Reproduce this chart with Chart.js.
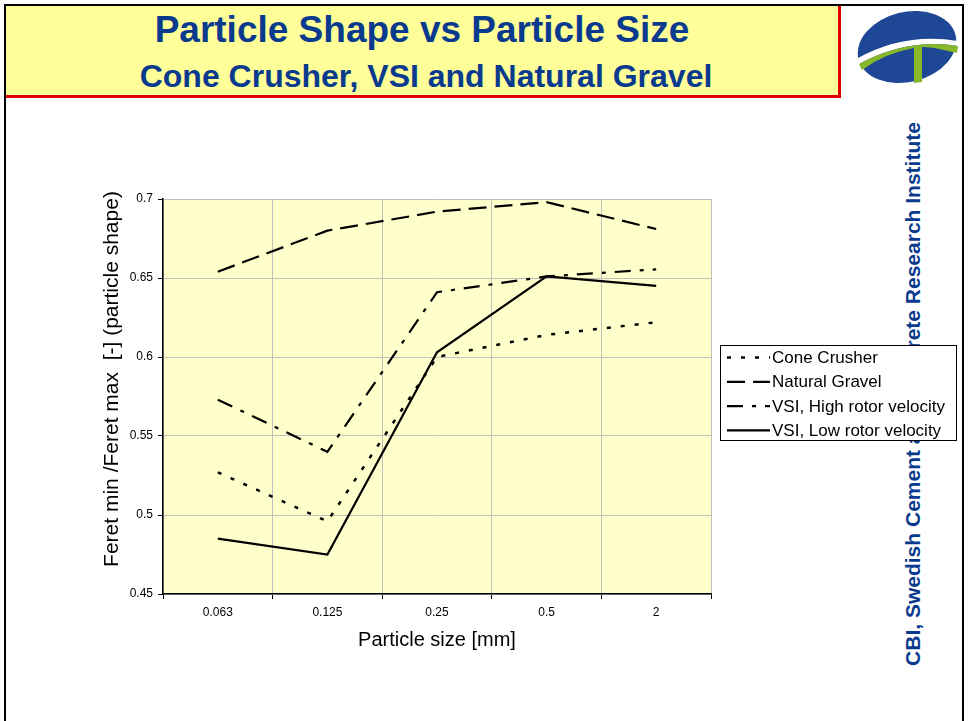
<!DOCTYPE html>
<html>
<head>
<meta charset="utf-8">
<script src="https://cdn.jsdelivr.net/npm/chart.js@4/dist/chart.umd.min.js"></script>
<style>
  html, body { margin:0; padding:0; background:#fff; width:968px; height:721px; overflow:hidden; }
  body { position:relative; font-family:"Liberation Sans", Arial, sans-serif; }
  #frame { position:absolute; left:4px; top:4px; width:956px; height:715px; border:2px solid #000; box-sizing:content-box; }
  #titlebox { position:absolute; left:6px; top:6px; width:832px; height:89px; background:#FFFF99; border-right:3px solid #E00000; border-bottom:3px solid #E00000; text-align:center; color:#0A3A8E; font-weight:bold; }
  #t1 { position:absolute; left:0; right:0; top:2px; font-size:37px; line-height:44px; }
  #t2 { position:absolute; left:8px; right:0; top:51px; font-size:32px; line-height:38px; }
  #side { position:absolute; left:913px; top:394px; transform:translate(-50%,-50%) rotate(-90deg); white-space:nowrap; font-weight:bold; font-size:21px; color:#0A3A8E; }
  #logo { position:absolute; left:850px; top:6px; }
  #c { position:absolute; left:0; top:0; }
</style>
</head>
<body>
<div id="frame"></div>
<div id="titlebox">
  <div id="t1">Particle Shape vs Particle Size</div>
  <div id="t2">Cone Crusher, VSI and Natural Gravel</div>
</div>
<svg id="logo" width="115" height="85" viewBox="0 0 115 85">
  <ellipse cx="57" cy="41" rx="50" ry="35" transform="rotate(-14 57 41)" fill="#1E4796"/>
  <path d="M8 52 Q55 26 108 35 L108 40 Q58 32 9 58 Z" fill="#ffffff"/>
  <path d="M9 58 Q58 32 108 40 L107 47 Q80 40 72 41 L72 76 L64 77 L64 42 Q35 47 12 64 Z" fill="#86B82A"/>
</svg>
<div id="side">CBI, Swedish Cement and Concrete Research Institute</div>
<canvas id="c" width="968" height="721"></canvas>
<script>
const categories = ["0.063", "0.125", "0.25", "0.5", "2"];
const coneCrusher   = [0.527, 0.496, 0.600, 0.614, 0.622];
const naturalGravel = [0.654, 0.680, 0.692, 0.698, 0.681];
const vsiHigh       = [0.573, 0.540, 0.641, 0.651, 0.6555];
const vsiLow        = [0.485, 0.475, 0.603, 0.651, 0.645];
const seriesNames = ["Cone Crusher", "Natural Gravel", "VSI, High rotor velocity", "VSI, Low rotor velocity"];
const yMin = 0.45, yMax = 0.7, yStep = 0.05;

const FONT = '"Liberation Sans", Arial, sans-serif';
Chart.defaults.font.family = FONT;
Chart.defaults.color = '#000';

const plotBg = {
  id: 'plotBg',
  beforeDraw(chart) {
    const a = chart.chartArea, ctx = chart.ctx;
    ctx.save();
    ctx.fillStyle = '#FFFFCC';
    ctx.fillRect(a.left, a.top, a.right - a.left, a.bottom - a.top);
    ctx.restore();
  }
};

const boxLegend = {
  id: 'boxLegend',
  afterDraw(chart) {
    const ctx = chart.ctx;
    ctx.save();
    ctx.fillStyle = '#fff';
    ctx.fillRect(720.5, 345.5, 236, 95);
    ctx.strokeStyle = '#000';
    ctx.lineWidth = 1;
    ctx.strokeRect(720.5, 345.5, 236, 95);
    ctx.font = '17px ' + FONT;
    ctx.textBaseline = 'middle';
    chart.data.datasets.forEach((ds, i) => {
      const y = 357.5 + i * 24.3;
      ctx.setLineDash(ds.borderDash || []);
      ctx.lineWidth = ds.borderWidth;
      ctx.strokeStyle = ds.borderColor;
      ctx.beginPath();
      ctx.moveTo(727, y);
      ctx.lineTo(770, y);
      ctx.stroke();
      ctx.setLineDash([]);
      ctx.fillStyle = '#000';
      ctx.fillText(ds.label, 772, y + 1);
    });
    ctx.restore();
  }
};

const mk = (label, data, dash, w) => ({
  label, data,
  borderColor: '#000', backgroundColor: '#000',
  borderWidth: w, borderDash: dash, borderCapStyle: 'butt',
  pointRadius: 0, tension: 0, fill: false
});

new Chart(document.getElementById('c'), {
  type: 'line',
  data: {
    labels: categories,
    datasets: [
      mk(seriesNames[0], coneCrusher, [4, 10], 2.5),
      mk(seriesNames[1], naturalGravel, [18, 8], 2.2),
      mk(seriesNames[2], vsiHigh, [16, 9, 4, 9], 2.2),
      mk(seriesNames[3], vsiLow, [], 2.2)
    ]
  },
  options: {
    responsive: false,
    animation: false,
    devicePixelRatio: 1,
    layout: { padding: { left: 100, right: 257, top: 199, bottom: 69 } },
    plugins: { legend: { display: false }, tooltip: { enabled: false }, title: { display: false } },
    scales: {
      x: {
        offset: true,
        grid: { offset: true, color: '#C0C0C0', lineWidth: 1, tickLength: 5, tickColor: '#000', tickWidth: 1 },
        border: { color: '#000', width: 1.5 },
        ticks: { font: { size: 12 }, padding: 6, color: '#000', maxRotation: 0 },
        title: { display: true, text: 'Particle size [mm]', font: { size: 20 }, color: '#000', padding: { top: 0, bottom: 0 } },
        afterFit(s) { s.height = 58; }
      },
      y: {
        min: yMin, max: yMax,
        grid: { color: '#C0C0C0', lineWidth: 1, tickLength: 5, tickColor: '#000', tickWidth: 1 },
        border: { color: '#000', width: 1.5 },
        ticks: { stepSize: yStep, font: { size: 12 }, padding: 5, color: '#000',
                 callback: v => String(Number(v.toFixed(2))) },
        title: { display: true, text: '      Feret min /Feret max  [-] (particle shape)', font: { size: 21 }, color: '#000', padding: { top: 0, bottom: 0 } },
        afterFit(s) { s.width = 63; }
      }
    }
  },
  plugins: [plotBg, boxLegend]
});
</script>
</body>
</html>
